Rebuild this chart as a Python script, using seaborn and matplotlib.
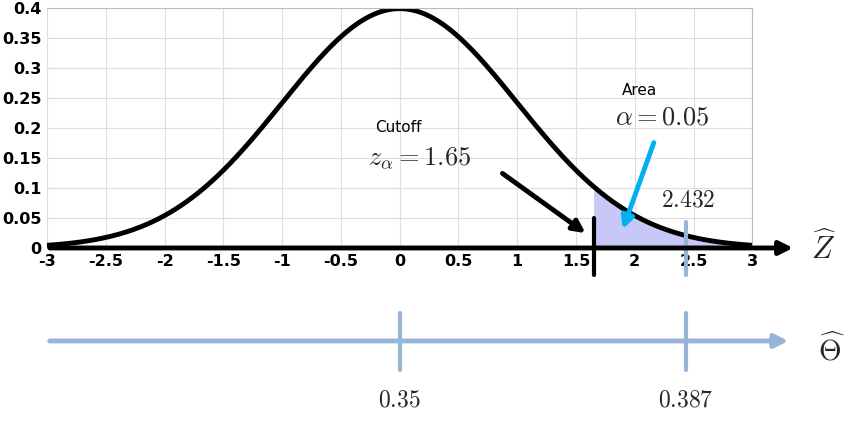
import numpy as np
import matplotlib
matplotlib.use("Agg")
import matplotlib.pyplot as plt
import seaborn as sns
import pandas as pd

sns.set_theme(style="whitegrid")
plt.rcParams['font.family'] = ['DejaVu Sans']
plt.rcParams['mathtext.fontset'] = 'cm'

z = np.linspace(-3, 3, 601)
pdf = np.exp(-z**2 / 2) / np.sqrt(2 * np.pi)
cutoff = 1.65
observed = 2.432
theta_ticks = [0.0, 2.432]
theta_labels = ["0.35", "0.387"]
xticks = np.arange(-3, 3.01, 0.5)
yticks = np.arange(0, 0.401, 0.05)

fig = plt.figure(figsize=(8.54, 4.21), dpi=100)
ax = fig.add_axes([0.055, 0.411, 0.826, 0.57])
df = pd.DataFrame({"z": z, "pdf": pdf})
sns.lineplot(data=df, x="z", y="pdf", ax=ax, color="black", lw=3.5)
m = z >= cutoff
ax.fill_between(z[m], pdf[m], color="#c8c8f8", lw=0)
ax.set_xlim(-3, 3); ax.set_ylim(0, 0.4)
ax.set_xticks(xticks); ax.set_yticks(yticks)
ax.set_xticklabels([f"{v:g}" for v in xticks], fontweight="bold", fontsize=11.5)
ax.set_yticklabels([f"{v:g}" for v in yticks], fontweight="bold", fontsize=11.5)
ax.set_xlabel(""); ax.set_ylabel("")
ax.grid(color="#dddddd", lw=0.8)
for s in ax.spines.values():
    s.set_color("#bbbbbb"); s.set_linewidth(0.8)
ax.spines['bottom'].set_visible(False); ax.spines['left'].set_visible(False)
ax.tick_params(axis='both', length=0, pad=4, colors="black")

blue = "#97b4d6"
ax.annotate("", xy=(3.37, 0), xytext=(-3, 0), annotation_clip=False,
            arrowprops=dict(arrowstyle="-|>", color="black", lw=3.5, mutation_scale=20))
ax.text(3.5, 0.0, r"$\widehat{Z}$", fontsize=22, va="center", ha="left")
ax.plot([cutoff, cutoff], [0.05, -0.045], color="black", lw=3, clip_on=False)
ax.plot([observed, observed], [0.043, -0.045], color=blue, lw=3, clip_on=False)
ax.text(2.455, 0.08, r"$2.432$", fontsize=17, ha="center", va="center")
ax.text(-0.21, 0.2, "Cutoff", fontsize=11, ha="left", va="center", color="black")
ax.text(-0.27, 0.15, r"$z_\alpha = 1.65$", fontsize=19, ha="left", va="center")
ax.annotate("", xy=(1.6, 0.022), xytext=(0.855, 0.127),
            arrowprops=dict(arrowstyle="-|>", color="black", lw=3.5, mutation_scale=18))
ax.text(1.894, 0.263, "Area", fontsize=11, ha="left", va="center", color="black")
ax.text(1.83, 0.217, r"$\alpha = 0.05$", fontsize=19, ha="left", va="center")
ax.annotate("", xy=(1.89, 0.027), xytext=(2.17, 0.18),
            arrowprops=dict(arrowstyle="-|>", color="#00b0f0", lw=3.5, mutation_scale=18))

ax.annotate("", xy=(3.33, -0.155), xytext=(-3, -0.155), annotation_clip=False,
            arrowprops=dict(arrowstyle="-|>", color=blue, lw=3.5, mutation_scale=20))
ax.text(3.56, -0.17, r"$\widehat{\Theta}$", fontsize=21, va="center", ha="left")
for xv, lab in zip(theta_ticks, theta_labels):
    ax.plot([xv, xv], [-0.108, -0.203], color=blue, lw=3, clip_on=False)
    ax.text(xv, -0.253, f"${lab}$", fontsize=17, ha="center", va="center")

fig.savefig("out.png", dpi=100)
